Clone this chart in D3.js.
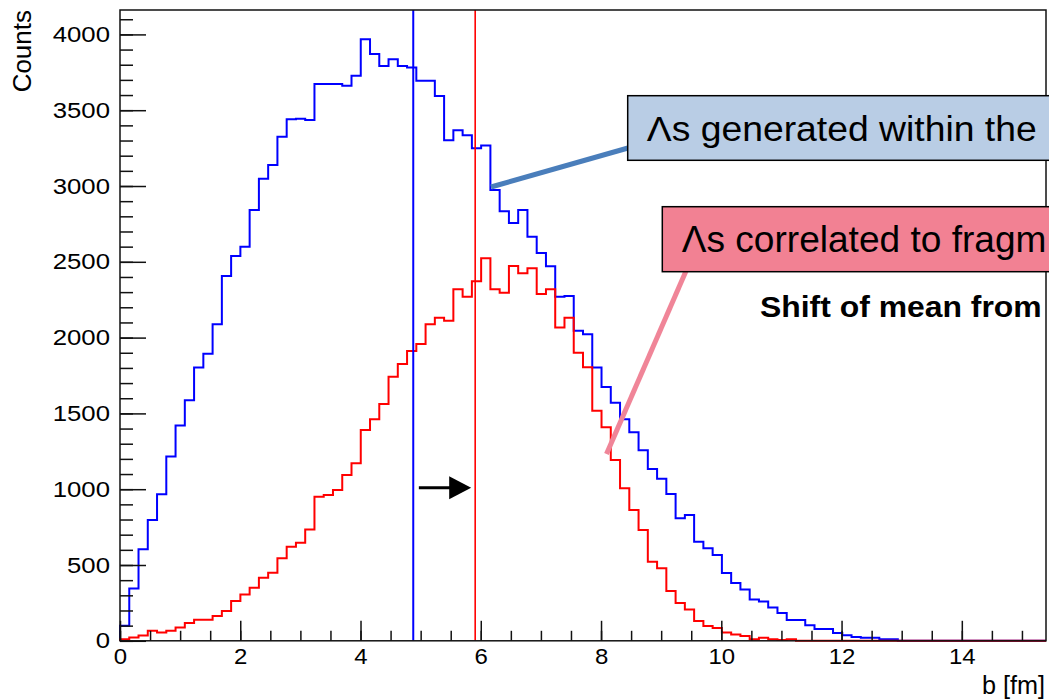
<!DOCTYPE html>
<html>
<head>
<meta charset="utf-8">
<script src="https://cdn.jsdelivr.net/npm/d3@7"></script>
<style>
  html, body { margin: 0; padding: 0; background: #fff; }
  svg { display: block; }
  text { font-family: "Liberation Sans", Arial, Helvetica, sans-serif; }
</style>
</head>
<body>
<svg id="chart" width="1049" height="699"></svg>
<script>
// ---------------- data ----------------
const xRange = [0, 15.4];          // b [fm]
const nBins = 100;
const yMax = 4161;
// Lambdas generated within the ... (blue)
const blueCounts = [
  100, 345, 604, 797, 966, 1215, 1421, 1586, 1802, 1894,
  2088, 2406, 2538, 2600, 2842, 3048, 3139, 3325, 3440, 3444,
  3435, 3673, 3673, 3673, 3662, 3728, 3968, 3871, 3792, 3836,
  3792, 3781, 3695, 3695, 3594, 3301, 3367, 3334, 3249, 3268,
  2974, 2833, 2756, 2842, 2666, 2558, 2470, 2270, 2274, 2045,
  2022, 1802, 1674, 1571, 1461, 1375, 1257, 1133, 1069, 968,
  808, 830, 654, 610, 566, 447, 382, 338, 272, 260,
  220, 183, 138, 138, 102, 78, 78, 52, 36, 25,
  20, 20, 10, 10, 0, 0, 0, 0, 0, 0,
  0, 0, 0, 0, 0, 0, 0, 0, 0, 0
];
// Lambdas correlated to fragments (red)
const redCounts = [
  10, 21, 35, 66, 55, 66, 88, 118, 139, 139,
  164, 197, 262, 306, 350, 416, 449, 544, 621, 647,
  735, 951, 962, 995, 1094, 1171, 1391, 1462, 1562, 1742,
  1826, 1912, 1958, 2088, 2131, 2112, 2319, 2270, 2371, 2523,
  2319, 2296, 2472, 2424, 2457, 2288, 2319, 2066, 2131, 1900,
  1804, 1518, 1408, 1193, 1006, 863, 731, 522, 478, 328,
  249, 206, 130, 98, 85, 55, 42, 32, 10, 20,
  10, 5, 10, 0, 0, 0, 0, 0, 0, 0,
  0, 0, 0, 0, 0, 0, 0, 0, 0, 0,
  0, 0, 0, 0, 0, 0, 0, 0, 0, 0
];
const blueMean = 4.877;
const redMean = 5.907;
const xMajorTicks = [0, 2, 4, 6, 8, 10, 12, 14];
const yMajorTicks = [0, 500, 1000, 1500, 2000, 2500, 3000, 3500, 4000];
const arrowFrom = 4.97, arrowTo = 5.84, arrowY = 1010;
const blueLabel = "Λs generated within the";
const redLabel = "Λs correlated to fragm";
const shiftLabel = "Shift of mean from";
const xTitle = "b [fm]";
const yTitle = "Counts";

// ---------------- drawing ----------------
const svg = d3.select("#chart");
const x = d3.scaleLinear().domain(xRange).range([120, 1046]);
const y = d3.scaleLinear().domain([0, yMax]).range([640.8, 10]);
const binW = (xRange[1] - xRange[0]) / nBins;

function stepPoints(counts) {
  const pts = [[xRange[0], 0]];
  counts.forEach((c, i) => pts.push([xRange[0] + i * binW, c]));
  pts.push([xRange[1], counts[counts.length - 1]]);
  return pts;
}
const line = d3.line().x(d => x(d[0])).y(d => y(d[1])).curve(d3.curveStepAfter);

const plot = svg.append("g");
plot.append("path").attr("d", line(stepPoints(blueCounts)))
  .attr("fill", "none").attr("stroke", "#0000ff").attr("stroke-width", 2);
plot.append("path").attr("d", line(stepPoints(redCounts)))
  .attr("fill", "none").attr("stroke", "#ff0000").attr("stroke-width", 2);

// mean lines
plot.append("line").attr("x1", x(blueMean)).attr("x2", x(blueMean))
  .attr("y1", y(0)).attr("y2", y(yMax)).attr("stroke", "#0000ff").attr("stroke-width", 2);
plot.append("line").attr("x1", x(redMean)).attr("x2", x(redMean))
  .attr("y1", y(0)).attr("y2", y(yMax)).attr("stroke", "#ff0000").attr("stroke-width", 1.6);

// arrow
plot.append("line").attr("x1", x(arrowFrom)).attr("x2", x(arrowTo) - 20)
  .attr("y1", y(arrowY)).attr("y2", y(arrowY)).attr("stroke", "#000").attr("stroke-width", 3);
{
  const tx = x(arrowTo), ty = y(arrowY);
  plot.append("path")
    .attr("d", `M${tx - 22},${ty - 11.5}L${tx},${ty}L${tx - 22},${ty + 11.5}Z`)
    .attr("fill", "#000");
}

// axes
const axisColor = "#111";
const xAxisMinor = d3.axisBottom(x).tickValues(d3.range(0, 15.01, 0.5)).tickSize(-10).tickFormat("");
const xAxisMajor = d3.axisBottom(x).tickValues(xMajorTicks).tickSize(-20).tickPadding(8).tickFormat(d3.format("d"));
const yAxisMinor = d3.axisLeft(y).tickValues(d3.range(0, 4101, 100)).tickSize(-13).tickFormat("");
const yAxisMajor = d3.axisLeft(y).tickValues(yMajorTicks).tickSize(-26).tickPadding(9).tickFormat(d3.format("d"));

function styleAxis(g, fs) {
  g.select(".domain").remove();
  g.selectAll("line").attr("stroke", axisColor).attr("stroke-width", 1.5);
  g.selectAll("text").attr("fill", "#000").style("font-size", fs + "px")
    .style("font-family", '"Liberation Sans", Arial, sans-serif');
}
svg.append("g").attr("transform", `translate(0,${y(0)})`).call(xAxisMinor).call(g => styleAxis(g, 22));
svg.append("g").attr("transform", `translate(0,${y(0)})`).call(xAxisMajor).call(g => styleAxis(g, 22))
  .call(g => g.selectAll("text").attr("transform", "scale(1.09,1)"));
svg.append("g").attr("transform", `translate(${x(0)},0)`).call(yAxisMinor).call(g => styleAxis(g, 22));
svg.append("g").attr("transform", `translate(${x(0)},0)`).call(yAxisMajor).call(g => styleAxis(g, 22))
  .call(g => g.selectAll("text").attr("x", 0).attr("transform", "translate(-10,0) scale(1.17,1)"));

// frame
svg.append("rect").attr("x", x(xRange[0])).attr("y", y(yMax))
  .attr("width", x(xRange[1]) - x(xRange[0])).attr("height", y(0) - y(yMax))
  .attr("fill", "none").attr("stroke", axisColor).attr("stroke-width", 1.5);

// axis titles
svg.append("text").attr("transform", "translate(1045,694) scale(1.01,1)").attr("text-anchor", "end")
  .style("font-size", "25px").text(xTitle);
svg.append("text").attr("transform", "translate(31,10) rotate(-90) scale(1.04,1)").attr("text-anchor", "end")
  .style("font-size", "25px").text(yTitle);

// annotations
svg.append("line").attr("x1", 491).attr("y1", 187).attr("x2", 628).attr("y2", 148)
  .attr("stroke", "#4a7ebb").attr("stroke-width", 5);
svg.append("rect").attr("x", 627.7).attr("y", 95.7).attr("width", 500).attr("height", 64.6)
  .attr("fill", "#b9cde5").attr("stroke", "#000").attr("stroke-width", 1.5);
svg.append("text").attr("transform", "translate(646.7,141) scale(1.037,1)")
  .style("font-size", "36px").text(blueLabel);

svg.append("line").attr("x1", 606.5).attr("y1", 454).attr("x2", 686).attr("y2", 271)
  .attr("stroke", "#f08598").attr("stroke-width", 5);
svg.append("rect").attr("x", 662.3).attr("y", 206.7).attr("width", 500).attr("height", 65)
  .attr("fill", "#f28193").attr("stroke", "#000").attr("stroke-width", 1.5);
svg.append("text").attr("transform", "translate(681.7,252.3) scale(1.03,1)")
  .style("font-size", "36px").text(redLabel);

svg.append("text").attr("transform", "translate(760,316.7) scale(1.1,1)").style("font-size", "29px")
  .style("font-weight", "bold").text(shiftLabel);
</script>
</body>
</html>
